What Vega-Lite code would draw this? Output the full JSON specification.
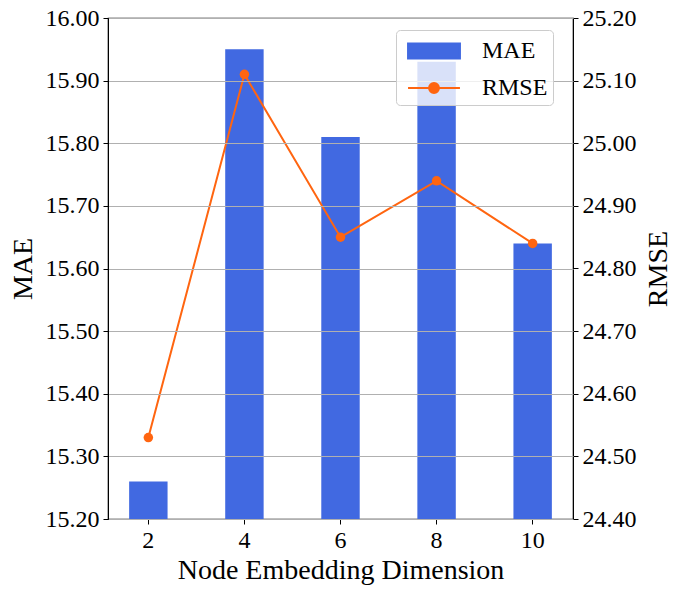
{
  "$schema": "https://vega.github.io/schema/vega-lite/v6.json",
  "width": 465,
  "height": 501,
  "autosize": {"type": "none"},
  "padding": {"left": 108, "top": 18, "right": 107, "bottom": 75},
  "background": "white",
  "config": {
    "font": "Liberation Serif",
    "view": {"stroke": "black", "strokeWidth": 1.2},
    "axis": {
      "labelFont": "Liberation Serif",
      "titleFont": "Liberation Serif",
      "labelFontSize": 24,
      "titleFontSize": 28,
      "titleFontWeight": "normal",
      "labelColor": "black",
      "titleColor": "black",
      "domainColor": "black",
      "tickColor": "black",
      "tickSize": 5,
      "labelPadding": 4
    },
    "legend": {"labelFont": "Liberation Serif"}
  },
  "data": {
    "values": [
      {"dim": 2, "MAE": 15.26, "RMSE": 24.53},
      {"dim": 4, "MAE": 15.95, "RMSE": 25.11},
      {"dim": 6, "MAE": 15.81, "RMSE": 24.85},
      {"dim": 8, "MAE": 15.93, "RMSE": 24.94},
      {"dim": 10, "MAE": 15.64, "RMSE": 24.84}
    ]
  },
  "encoding": {
    "x": {
      "field": "dim",
      "type": "ordinal",
      "title": "Node Embedding Dimension",
      "scale": {"paddingInner": 0.6, "paddingOuter": 0.22},
      "axis": {"labelAngle": 0, "titlePadding": 4}
    }
  },
  "layer": [
    {
      "mark": {"type": "bar", "clip": true},
      "encoding": {
        "y": {
          "field": "MAE",
          "type": "quantitative",
          "title": "MAE",
          "scale": {"domain": [15.2, 16.0], "zero": false, "nice": false},
          "axis": {
            "values": [15.2, 15.3, 15.4, 15.5, 15.6, 15.7, 15.8, 15.9, 16.0],
            "format": ".2f",
            "grid": true,
            "gridColor": "#b0b0b0",
            "gridWidth": 1,
            "zindex": 1,
            "titlePadding": 8
          }
        },
        "color": {
          "datum": "MAE",
          "scale": {"domain": ["MAE", "RMSE"], "range": ["#4169e1", "#ff6510"]},
          "legend": {
            "title": null,
            "orient": "none",
            "legendX": 288,
            "legendY": 12,
            "labelFontSize": 24,
            "labelColor": "black",
            "symbolSize": 900,
            "symbolOffset": 17,
            "labelOffset": 32,
            "rowPadding": 9,
            "padding": 5,
            "fillColor": "rgba(255,255,255,0.8)",
            "strokeColor": "#cccccc",
            "cornerRadius": 4,
            "zindex": 2,
            "encode": {
              "symbols": {
                "update": {
                  "shape": {"signal": "datum.value === 'MAE' ? 'M-1.73,-0.5H1.73V0.5H-1.73Z' : 'M-1.73,0H1.73M0.33,0A0.33,0.33 0 1,1 -0.33,0A0.33,0.33 0 1,1 0.33,0'"},
                  "fill": {"signal": "datum.value === 'MAE' ? '#4169e1' : '#ff6510'"},
                  "stroke": {"signal": "datum.value === 'MAE' ? 'transparent' : '#ff6510'"},
                  "strokeWidth": {"value": 2},
                  "opacity": {"value": 1}
                }
              }
            }
          }
        }
      }
    },
    {
      "mark": {"type": "line", "strokeWidth": 2, "point": {"filled": true, "size": 90}},
      "encoding": {
        "y": {
          "field": "RMSE",
          "type": "quantitative",
          "title": "RMSE",
          "scale": {"domain": [24.4, 25.2], "zero": false, "nice": false},
          "axis": {
            "orient": "right",
            "values": [24.4, 24.5, 24.6, 24.7, 24.8, 24.9, 25.0, 25.1, 25.2],
            "format": ".2f",
            "grid": false,
            "titleAngle": 270,
            "titleBaseline": "top",
            "titlePadding": 8
          }
        },
        "color": {"datum": "RMSE"}
      }
    }
  ],
  "resolve": {"scale": {"y": "independent"}}
}
